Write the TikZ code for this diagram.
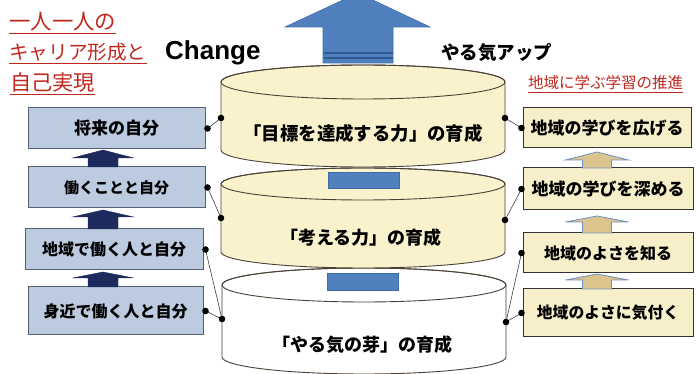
\documentclass[tikz,border=0pt]{standalone}
\usepackage{fontspec}
\setmainfont{Noto Sans CJK JP}
\newfontfamily\arialf{Liberation Sans}
\usetikzlibrary{calc}
\newcommand\myfs[1]{\fontsize{#1}{#1}\selectfont}
\definecolor{titlered}{HTML}{C0281E}
\definecolor{lboxfill}{HTML}{BCCBDF}
\definecolor{lboxline}{HTML}{566074}
\definecolor{rboxfill}{HTML}{F7EFC9}
\definecolor{rboxline}{HTML}{333333}
\definecolor{cylfill}{HTML}{FAF2CD}
\definecolor{cylline}{HTML}{4A4236}
\definecolor{bigblue}{HTML}{5080BE}
\definecolor{bigblueline}{HTML}{3F6CA8}
\definecolor{stripe}{HTML}{2F5A95}
\definecolor{navy}{HTML}{1C2A5C}
\definecolor{tan}{HTML}{DCC48E}
\definecolor{tanline}{HTML}{6F8FC4}
\newcommand\drawcyl[6]{%
  \filldraw[cylstyle, fill=#6] ({#1-#4},#2) -- ({#1-#4},#3)
    arc[start angle=180,end angle=360,x radius=#4pt,y radius=#5pt]
    -- ({#1+#4},#2)
    arc[start angle=0,end angle=180,x radius=#4pt,y radius=#5pt] -- cycle;
  \draw[cylstyle] (#1,#2) ellipse[x radius=#4pt, y radius=#5pt];
}
% x, Ybottom, Ybase, Ytip, headhalf, shafthalf, style
\newcommand\upblock[7]{%
  \filldraw[#7] ({#1-#6},#2) -- ({#1-#6},#3) -- ({#1-#5},#3) -- (#1,#4)
    -- ({#1+#5},#3) -- ({#1+#6},#3) -- ({#1+#6},#2) -- cycle;
}
\begin{document}
\begin{tikzpicture}[x=1pt,y=1pt,
  cylstyle/.style={draw=cylline, line width=0.9pt},
  lbox/.style={draw=lboxline, fill=lboxfill, line width=1pt, minimum width=177pt, inner sep=0pt},
  rbox/.style={draw=rboxline, fill=rboxfill, line width=1pt, minimum width=170pt, inner sep=0pt},
  txt/.style={inner sep=0pt, text=black},
  redtxt/.style={inner sep=0pt, text=titlered, anchor=west},
  uline/.style={draw=titlered, line width=0.9pt},
  conn/.style={draw=black!75, line width=0.6pt},
  dot/.style={fill=black},
  larr/.style={fill=navy, draw=navy, line width=0.4pt},
  rarr/.style={fill=tan, draw=tanline, line width=0.8pt},
  bluerect/.style={fill=bigblue, draw=bigblueline, line width=0.5pt}
]
\useasboundingbox (0,0) rectangle (696,374);
\fill[white] (0,0) rectangle (696,374);

% cylinders (bottom first)
\drawcyl{364}{89}{17}{142}{17}{white}
\drawcyl{363}{190}{122}{142}{16}{cylfill}
\drawcyl{363}{292}{224}{142}{17}{cylfill}

% blue pieces between cylinders
\filldraw[bluerect] (328,186) rectangle (399,202);
\filldraw[bluerect] (327,84) rectangle (398,101);

% big arrow on top
\filldraw[fill=bigblue, draw=bigblueline, line width=0.6pt]
  (323,311) -- (323,347) -- (285,347) -- (358,381) -- (430,347) -- (393,347) -- (393,311) -- cycle;
\draw[stripe, line width=1.4pt] (323.5,321) -- (392.5,321);
\draw[stripe, line width=1.2pt] (323.5,316) -- (392.5,316);

% cylinder side anchor points
\coordinate (ctl) at (221,256);
\coordinate (ctr) at (505,256);
\coordinate (cml) at (221,156);
\coordinate (cmr) at (505,154);
\coordinate (cbl) at (222,55);
\coordinate (cbr) at (506,52);

% cylinder texts
\node[txt, font=\bfseries\myfs{18.4}] (c1) at (363,241) {「目標を達成する力」の育成};
\node[txt, font=\bfseries\myfs{18}] (c2) at (361,136) {「考える力」の育成};
\node[txt, font=\bfseries\myfs{18}] (c3) at (362,29) {「やる気の芽」の育成};

% left boxes
\node[lbox, minimum height=41pt, font=\bfseries\myfs{17}] (L1) at (116.5,245.5) {将来の自分};
\node[lbox, minimum height=41pt, font=\bfseries\myfs{15}] (L2) at (116.5,186.5) {働くことと自分};
\node[lbox, minimum width=178pt, minimum height=41pt, font=\bfseries\myfs{16}] (L3) at (114,124.5) {地域で働く人と自分};
\node[lbox, minimum width=175pt, minimum height=48pt, font=\bfseries\myfs{16}] (L4) at (115.5,63) {身近で働く人と自分};

% left arrows
\upblock{103}{207}{216}{224}{30.5}{15}{larr}
\upblock{103}{145}{157}{164}{30.5}{15}{larr}
\upblock{103}{87}{96}{102}{30.5}{15}{larr}

% right boxes
\node[rbox, minimum width=168pt, minimum height=40pt, font=\bfseries\myfs{17}] (R1) at (607,246) {地域の学びを広げる};
\node[rbox, minimum height=42pt, font=\bfseries\myfs{17}] (R2) at (608,185) {地域の学びを深める};
\node[rbox, minimum height=40pt, font=\bfseries\myfs{16}] (R3) at (608,121) {地域のよさを知る};
\node[rbox, minimum height=48pt, font=\bfseries\myfs{15.8}] (R4) at (608,61) {地域のよさに気付く};

% right arrows
\upblock{597}{206}{214}{222}{31.5}{14.5}{rarr}
\upblock{597}{141}{152}{158}{31.5}{14.5}{rarr}
\upblock{597}{85}{94}{100}{31.5}{14.5}{rarr}

% connectors left
\draw[conn] ([xshift=2pt]L1.east) -- (ctl);
\draw[conn] ([xshift=2pt]L2.east) -- (cml);
\draw[conn] ([xshift=2pt]L3.east) -- (cbl);
\draw[conn] ([xshift=2pt]L4.east) -- (cbl);
\foreach \n in {L1,L2,L3,L4} \fill[dot] ([xshift=2pt]\n.east) circle[radius=3.3pt];
% connectors right
\draw[conn] ([xshift=-1pt]R1.west) -- (ctr);
\draw[conn] ([xshift=-1pt]R2.west) -- (cmr);
\draw[conn] ([xshift=-1pt]R3.west) -- (cbr);
\draw[conn] ([xshift=-1pt]R4.west) -- (cbr);
\foreach \n in {R1,R2,R3,R4} \fill[dot] ([xshift=-1pt]\n.west) circle[radius=3.3pt];
\foreach \c in {ctl,ctr,cml,cmr,cbl,cbr} \fill[dot] (\c) circle[radius=3.3pt];

% titles
\node[redtxt, font=\myfs{21.4}] (t1) at (9,352) {一人一人の};
\node[redtxt, font=\myfs{19.6}] (t2) at (9,322) {キャリア形成と};
\node[redtxt, font=\myfs{21.2}] (t3) at (10,292) {自己実現};
\draw[uline] ([yshift=-2pt]t1.south west) -- ([yshift=-2pt]t1.south east);
\draw[uline] ([yshift=-2pt]t2.south west) -- ([yshift=-2pt]t2.south east);
\draw[uline] ([yshift=-2pt]t3.south west) -- ([yshift=-2pt]t3.south east);

\node[inner sep=0pt, anchor=base west, font=\arialf\bfseries\myfs{26}] (chg) at (165,314) {Change};
\node[txt, anchor=west, font=\bfseries\myfs{18.5}] (yaru) at (441,321) {やる気アップ};
\node[redtxt, font=\myfs{15.5}] (t4) at (528,291) {地域に学ぶ学習の推進};
\draw[uline] ([yshift=-2pt]t4.south west) -- ([yshift=-2pt]t4.south east);
\end{tikzpicture}
\end{document}
